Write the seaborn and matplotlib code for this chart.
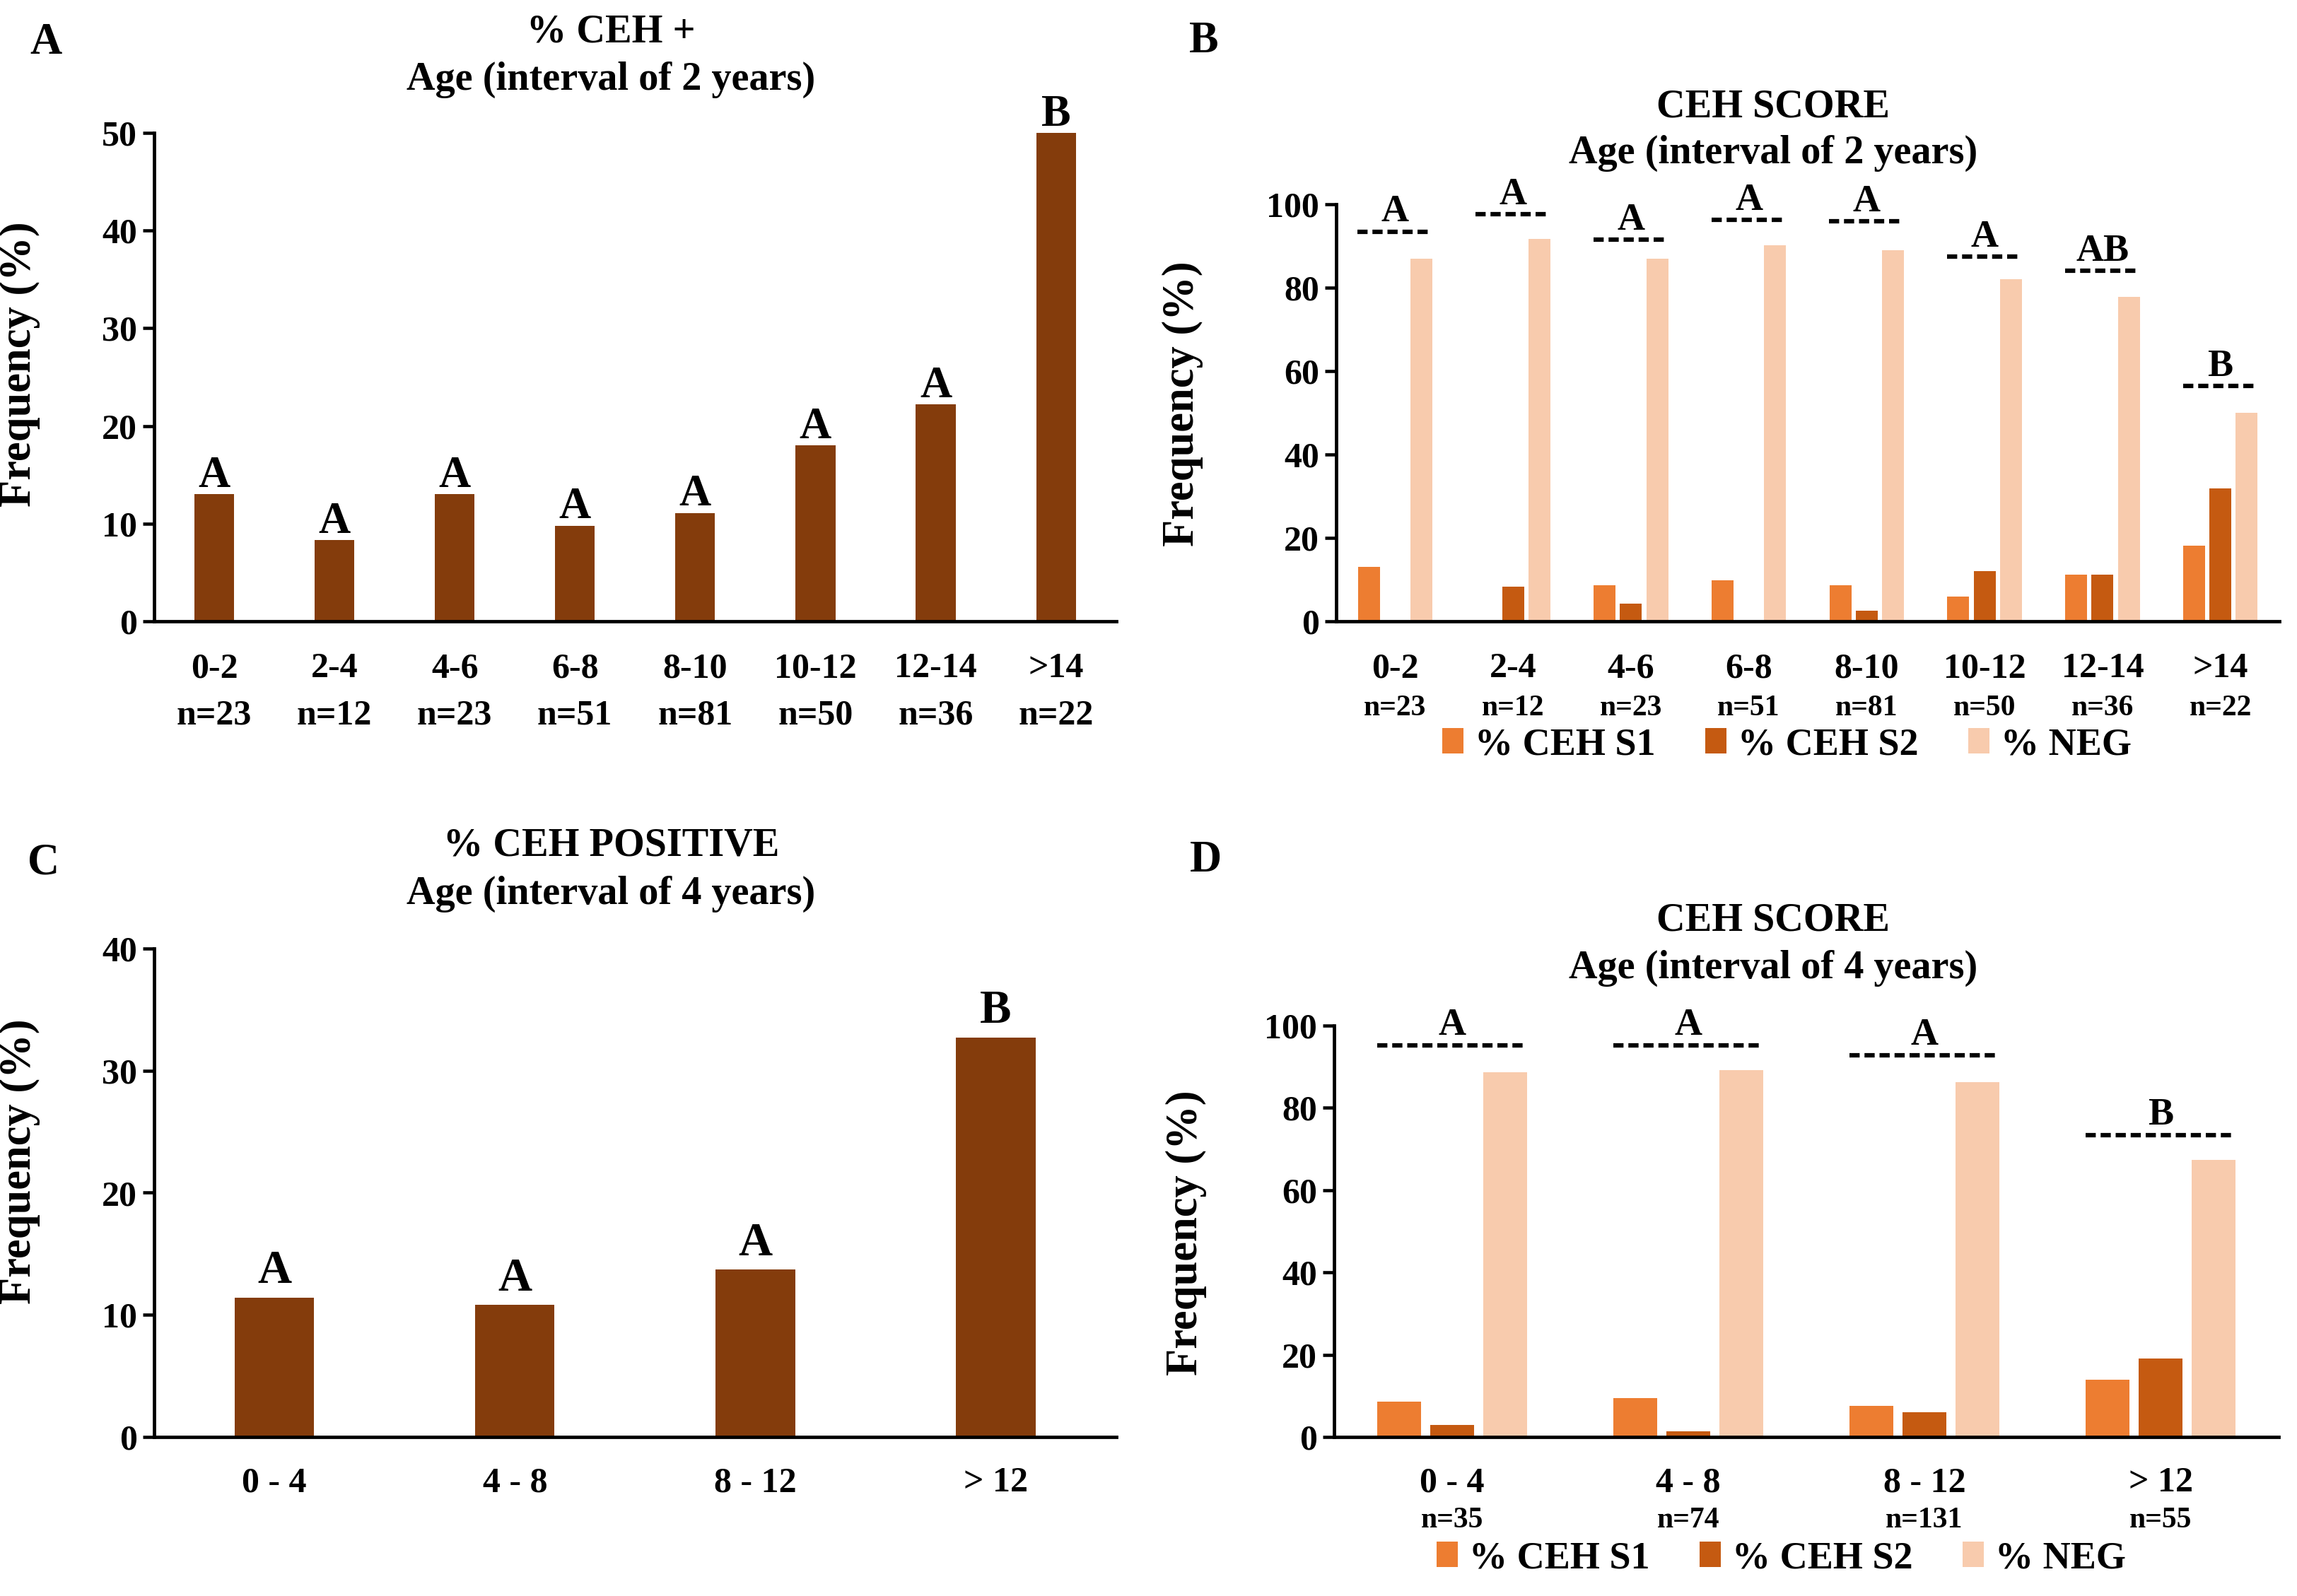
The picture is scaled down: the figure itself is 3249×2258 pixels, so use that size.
import matplotlib
matplotlib.use("Agg")
import matplotlib.pyplot as plt
from matplotlib.patches import Patch
import pandas as pd
import seaborn as sns

# panel A: % CEH + by 2-year age groups
ages_2y = ["0-2", "2-4", "4-6", "6-8", "8-10", "10-12", "12-14", ">14"]
n_2y = ["n=23", "n=12", "n=23", "n=51", "n=81", "n=50", "n=36", "n=22"]
pos_2y = [13.0, 8.3, 13.0, 9.8, 11.1, 18.0, 22.2, 50.0]
letters_a = ["A", "A", "A", "A", "A", "A", "A", "B"]

# panel B: CEH score by 2-year age groups
s1_2y = [13.0, 0.0, 8.7, 9.8, 8.6, 6.0, 11.1, 18.2]
s2_2y = [0.0, 8.3, 4.3, 0.0, 2.5, 12.0, 11.1, 31.8]
neg_2y = [87.0, 91.7, 87.0, 90.2, 88.9, 82.0, 77.8, 50.0]
letters_b = ["A", "A", "A", "A", "A", "A", "AB", "B"]
sig_b = [93.4, 97.6, 91.5, 96.2, 95.9, 87.4, 84.0, 56.4]

# panel C: % CEH positive by 4-year age groups
ages_4y = ["0 - 4", "4 - 8", "8 - 12", "> 12"]
n_4y = ["n=35", "n=74", "n=131", "n=55"]
pos_4y = [11.4, 10.8, 13.7, 32.7]
letters_c = ["A", "A", "A", "B"]

# panel D: CEH score by 4-year age groups
s1_4y = [8.6, 9.5, 7.6, 13.9]
s2_4y = [2.9, 1.4, 6.1, 19.0]
neg_4y = [88.6, 89.2, 86.3, 67.3]
letters_d = ["A", "A", "A", "B"]
sig_d = [95.2, 95.2, 92.8, 73.4]

score_names = ["% CEH S1", "% CEH S2", "% NEG"]
BROWN = "#843C0C"
SCORE_COLORS = ["#ED7D31", "#C55A11", "#F8CBAD"]

sns.set_theme(style="white")
plt.rcParams["font.family"] = ["Liberation Serif", "DejaVu Serif"]
plt.rcParams["font.weight"] = "bold"
plt.rcParams["axes.labelweight"] = "bold"
for key in ["text.color", "axes.labelcolor", "xtick.color", "ytick.color", "axes.edgecolor"]:
    plt.rcParams[key] = "black"

fig = plt.figure(figsize=(10.83, 7.527), dpi=300)
ax_a = fig.add_axes([0.0671, 0.6107, 0.4188, 0.3060])
ax_b = fig.add_axes([0.5817, 0.6107, 0.4106, 0.2613])
ax_c = fig.add_axes([0.0671, 0.0996, 0.4188, 0.3061])
ax_d = fig.add_axes([0.5808, 0.0996, 0.4112, 0.2578])


def style_axes(ax, ymax, ystep, ylab_xy):
    ax.set_ylim(0, ymax)
    ax.set_yticks(range(0, ymax + 1, ystep))
    for s in ["top", "right"]:
        ax.spines[s].set_visible(False)
    for s in ["left", "bottom"]:
        ax.spines[s].set_color("black")
        ax.spines[s].set_linewidth(1.15)
    ax.tick_params(axis="y", length=3.8, width=1.1, color="black", labelsize=12, pad=2, left=True)
    ax.tick_params(axis="x", length=0, labelbottom=False)
    ax.set_xlabel("")
    ax.set_ylabel("Frequency (%)", fontsize=15, fontweight="bold", color="black")
    ax.yaxis.set_label_coords(*ylab_xy)
    for lab in ax.get_yticklabels():
        lab.set_fontweight("bold")
        lab.set_color("black")


def x_labels(ax, cats, ns, cat_off, n_off, n_size):
    for i, c in enumerate(cats):
        ax.annotate(c, xy=(i, 0), xycoords=("data", "axes fraction"), xytext=(0, -cat_off),
                    textcoords="offset points", ha="center", va="baseline", fontsize=12, fontweight="bold")
        ax.annotate(ns[i], xy=(i, 0), xycoords=("data", "axes fraction"), xytext=(0, -n_off),
                    textcoords="offset points", ha="center", va="baseline", fontsize=n_size, fontweight="bold")


def simple_panel(ax, cats, vals, letters, ymax, ystep, ylab_xy, letter_size, letter_off):
    sns.barplot(x=cats, y=vals, color=BROWN, saturation=1, width=0.33, linewidth=0, ax=ax)
    ax.set_xlim(-0.5, len(cats) - 0.5)
    style_axes(ax, ymax, ystep, ylab_xy)
    for i, (v, t) in enumerate(zip(vals, letters)):
        ax.annotate(t, xy=(i, v), xytext=(0, letter_off), textcoords="offset points",
                    ha="center", va="baseline", fontsize=letter_size, fontweight="bold")


def score_panel(ax, cats, s1, s2, neg, sig, letters, ylab_xy, leg_xy):
    df = pd.DataFrame({
        "age": cats * 3,
        "score": [score_names[0]] * len(cats) + [score_names[1]] * len(cats) + [score_names[2]] * len(cats),
        "freq": s1 + s2 + neg,
    })
    sns.barplot(data=df, x="age", y="freq", hue="score", hue_order=score_names, order=cats,
                palette=SCORE_COLORS, saturation=1, width=0.67, gap=0.17, linewidth=0,
                legend=False, ax=ax)
    ax.set_xlim(-0.5, len(cats) - 0.5)
    style_axes(ax, 100, 20, ylab_xy)
    for i, (y, t) in enumerate(zip(sig, letters)):
        ax.plot([i - 0.317, i + 0.317], [y, y], color="black", lw=1.5,
                linestyle=(0, (2.3, 1.1)), dash_capstyle="butt")
        ax.annotate(t, xy=(i, y), xytext=(0, 3.5), textcoords="offset points",
                    ha="center", va="baseline", fontsize=13, fontweight="bold")
    handles = [Patch(facecolor=c, edgecolor="none") for c in SCORE_COLORS]
    fig.legend(handles, score_names, loc="center", bbox_to_anchor=leg_xy, ncol=3, frameon=False,
               prop={"size": 13, "weight": "bold"}, handlelength=0.55, handleheight=0.65,
               handletextpad=0.3, columnspacing=1.3, borderpad=0)


simple_panel(ax_a, ages_2y, pos_2y, letters_a, 50, 10, (-0.118, 0.527), 15, 2.5)
x_labels(ax_a, ages_2y, n_2y, 19, 35, 12)

score_panel(ax_b, ages_2y, s1_2y, s2_2y, neg_2y, sig_b, letters_b, (-0.141, 0.522), (0.778, 0.533))
x_labels(ax_b, ages_2y, n_2y, 19, 32, 10)

simple_panel(ax_c, ages_4y, pos_4y, letters_c, 40, 10, (-0.118, 0.564), 16, 5)
x_labels(ax_c, ages_4y, [""] * 4, 18.5, 31, 10)

score_panel(ax_d, ages_4y, s1_4y, s2_4y, neg_4y, sig_d, letters_d, (-0.135, 0.497), (0.7755, 0.0235))
x_labels(ax_d, ages_4y, n_4y, 18.5, 30.7, 10)

title_kw = dict(ha="center", va="center", fontsize=13.5, fontweight="bold")
fig.text(0.266, 0.980, "% CEH +", **title_kw)
fig.text(0.266, 0.950, "Age (interval of 2 years)", **title_kw)
fig.text(0.772, 0.933, "CEH SCORE", **title_kw)
fig.text(0.772, 0.904, "Age (interval of 2 years)", **title_kw)
fig.text(0.266, 0.470, "% CEH POSITIVE", **title_kw)
fig.text(0.266, 0.440, "Age (interval of 4 years)", **title_kw)
fig.text(0.772, 0.423, "CEH SCORE", **title_kw)
fig.text(0.772, 0.3933, "Age (interval of 4 years)", **title_kw)

panel_kw = dict(ha="center", va="center", fontsize=15, fontweight="bold")
fig.text(0.020, 0.973, "A", **panel_kw)
fig.text(0.524, 0.974, "B", **panel_kw)
fig.text(0.019, 0.459, "C", **panel_kw)
fig.text(0.525, 0.4605, "D", **panel_kw)

fig.savefig("out.png", dpi=300, facecolor="white")
